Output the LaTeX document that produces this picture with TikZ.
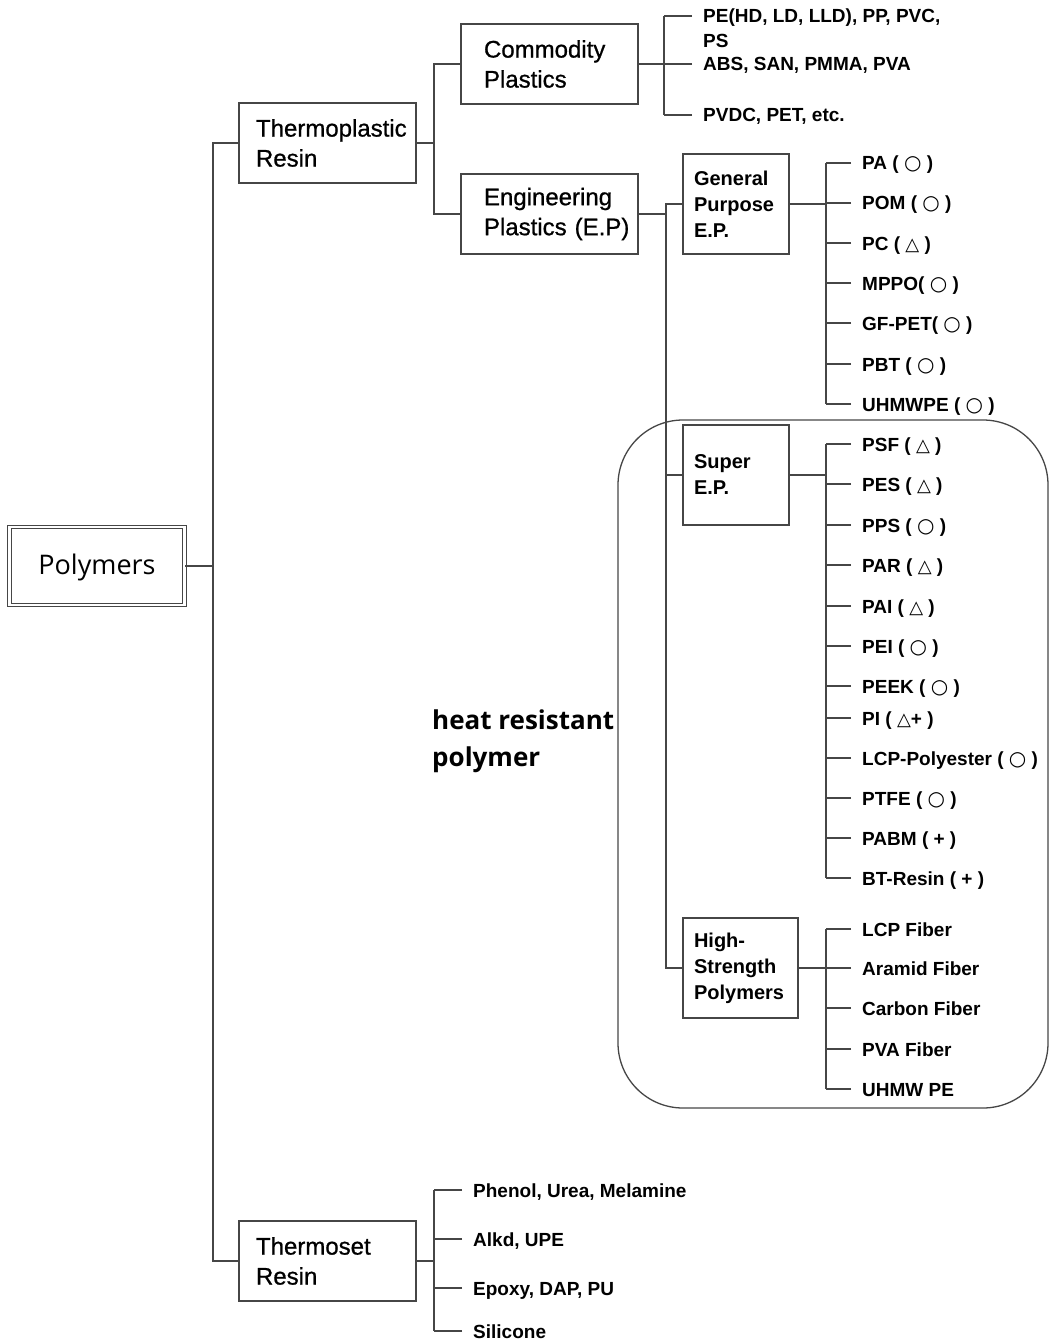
\documentclass[tikz,border=0pt]{standalone}
\usepackage{fontspec}
\usepackage{xcolor}
\setmainfont{Liberation Sans}
\newfontfamily\heavyfont{Liberation Sans}[FakeBold=0.8]
\newfontfamily\opensans{Open Sans}
\newfontfamily\symfont{DejaVu Sans}
\hyphenpenalty=10000
\exhyphenpenalty=10000
\definecolor{edgegray}{RGB}{70,70,70}
\newcommand{\cir}{{\symfont\mdseries\fontsize{20}{20}\selectfont ○}}
\newcommand{\tri}{{\symfont\mdseries\fontsize{18}{18}\selectfont △}}
\tikzset{
	link/.style={draw=edgegray, line width=1.3pt},
	bigbox/.style={draw=edgegray, line width=1.3pt, minimum height=80pt,
			inner xsep=17pt, text width=143pt, align=left,
			font=\heavyfont\fontsize{24}{30}\selectfont},
	midbox/.style={bigbox, inner xsep=23pt, text width=131pt},
	subbox/.style={draw=edgegray, line width=1.3pt, minimum height=100pt,
			inner xsep=11pt, text width=84pt, align=left,
			font=\fontsize{20}{26}\selectfont\bfseries},
	leaf/.style={anchor=west, inner xsep=11pt, inner ysep=0pt,
			text height=14pt, text depth=0pt,
			font=\fontsize{19}{25}\selectfont\bfseries}
}

\begin{document}
\begin{tikzpicture}[x=1pt, y=-1pt]
	\useasboundingbox (0,0) rectangle (1050,1343);

	% Draw the heat resistant region
	\draw[link, rounded corners=65pt] (618,420) rectangle (1048,1108);
	\node[anchor=base west, inner sep=0pt, align=left,
		font=\opensans\bfseries\fontsize{26}{37}\selectfont] (heat) at (432,766) {heat resistant\\polymer};

	% Draw the root and the boxes
	\node[draw=edgegray, double, line width=1.1pt, double distance=2.5pt,
		minimum width=175pt, minimum height=78pt, text height=19pt, text depth=3pt,
		font=\opensans\fontsize{27}{32}\selectfont] (poly) at (97,566) {Polymers};
	\node[bigbox] (thermo) at (327.5,143) {Thermoplastic\\Resin};
	\node[bigbox] (thset) at (327.5,1261) {Thermoset\\Resin};
	\node[midbox] (comm) at (549.5,64) {Commodity\\Plastics};
	\node[midbox] (eng) at (549.5,214) {Engineering\\Plastics~(E.P)};
	\node[subbox] (gp) at (736,204) {General\\Purpose\\E.P.};
	\node[subbox] (se) at (736,475) {Super\\E.P.};
	\node[subbox, text width=93pt] (hs) at (740.5,968) {High-\\Strength\\Polymers};

	% Junctions on the trunks
	\coordinate (jPoly) at (213,566);
	\coordinate (jThermo) at (434,143);
	\coordinate (jComm) at (664,64);
	\coordinate (jEng) at (666,214);
	\coordinate (jGP) at (826,204);
	\coordinate (jSE) at (826,475);
	\coordinate (jHS) at (826,968);
	\coordinate (jTS) at (434,1261);

	% Draw the leaves
	\foreach \y/\t [count=\k] in {16/{\vtop{\hbox{PE(HD, LD, LLD), PP, PVC,}\hbox{PS}}},
			64/{ABS, SAN, PMMA, PVA}, 115/{PVDC, PET, etc.}}
		\node[leaf] (c\k) at (692,\y) {\t};
	\foreach \y/\t [count=\k] in {163/{PA ( \cir{} )}, 203/{POM ( \cir{} )}, 243/{PC ( \tri{} )},
			283/{MPPO( \cir{} )}, 323/{GF-PET( \cir{} )}, 364/{PBT ( \cir{} )}, 404/{UHMWPE ( \cir{} )}}
		\node[leaf] (g\k) at (851,\y) {\t};
	\foreach \y/\t [count=\k] in {444/{PSF ( \tri{} )}, 484/{PES ( \tri{} )}, 525/{PPS ( \cir{} )},
			565/{PAR ( \tri{} )}, 606/{PAI ( \tri{} )}, 646/{PEI ( \cir{} )}, 686/{PEEK ( \cir{} )},
			718/{PI ( \tri+ )}, 758/{LCP-Polyester ( \cir{} )}, 798/{PTFE ( \cir{} )},
			838/{PABM ( + )}, 878/{BT-Resin ( + )}}
		\node[leaf] (s\k) at (851,\y) {\t};
	\foreach \y/\t [count=\k] in {929/LCP Fiber, 968/Aramid Fiber, 1008/Carbon Fiber,
			1049/PVA Fiber, 1089/UHMW PE}
		\node[leaf] (h\k) at (851,\y) {\t};
	\foreach \y/\t [count=\k] in {1190/{Phenol, Urea, Melamine}, 1239/{Alkd, UPE},
			1288/{Epoxy, DAP, PU}, 1331/Silicone}
		\node[leaf] (t\k) at (462,\y) {\t};

	% Draw the tree connectors
	\draw[link] (poly.east) -- (jPoly);
	\draw[link] (thermo.west) -| (jPoly) |- (thset.west);
	\draw[link] (thermo.east) -- (jThermo);
	\draw[link] (comm.west) -| (jThermo) |- (eng.west);
	\draw[link] (eng.east) -- (jEng);
	\draw[link] (gp.west) -| (jEng) |- (hs.west);
	\draw[link] (se.west) -- (se.west -| jEng);

	% Draw the leaf ticks
	\draw[link] (comm.east) -- (jComm);
	\draw[link] (c1.west -| jComm) -- (c3.west -| jComm);
	\foreach \k in {1,...,3}
		\draw[link] (c\k.west) -- (c\k.west -| jComm);
	\draw[link] (gp.east) -- (jGP);
	\draw[link] (g1.west -| jGP) -- (g7.west -| jGP);
	\foreach \k in {1,...,7}
		\draw[link] (g\k.west) -- (g\k.west -| jGP);
	\draw[link] (se.east) -- (jSE);
	\draw[link] (s1.west -| jSE) -- (s12.west -| jSE);
	\foreach \k in {1,...,12}
		\draw[link] (s\k.west) -- (s\k.west -| jSE);
	\draw[link] (hs.east) -- (jHS);
	\draw[link] (h1.west -| jHS) -- (h5.west -| jHS);
	\foreach \k in {1,...,5}
		\draw[link] (h\k.west) -- (h\k.west -| jHS);
	\draw[link] (thset.east) -- (jTS);
	\draw[link] (t1.west -| jTS) -- (t4.west -| jTS);
	\foreach \k in {1,...,4}
		\draw[link] (t\k.west) -- (t\k.west -| jTS);
\end{tikzpicture}
\end{document}
